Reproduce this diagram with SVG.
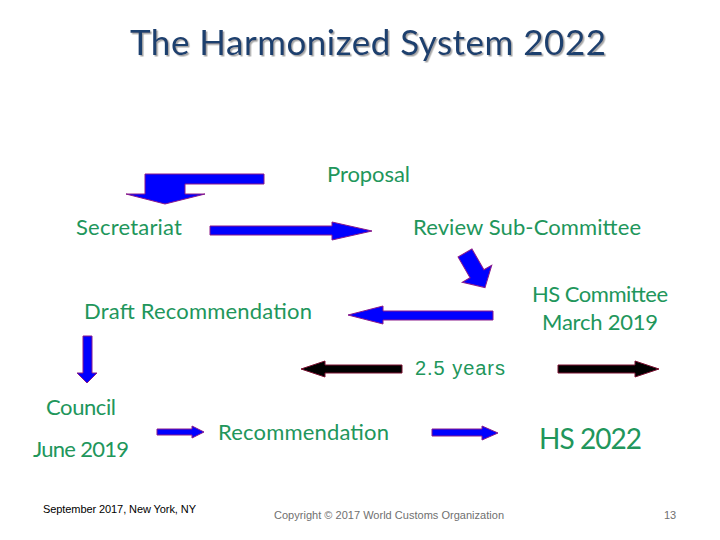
<svg xmlns="http://www.w3.org/2000/svg" width="720" height="540" viewBox="0 0 720 540">
<defs>
<filter id="sh" x="-5%" y="-20%" width="110%" height="150%">
<feDropShadow dx="1.5" dy="1.5" stdDeviation="0.6" flood-color="#808080" flood-opacity="0.7"/>
</filter>
</defs>
<style>
.t{font-family:Lato,"Open Sans","Liberation Sans",sans-serif;fill:#21965b;font-size:22px}
.ar{font-family:"Liberation Sans",Arial,sans-serif;fill:#21965b;font-size:20px}
.title{font-family:Lato,"Open Sans","Liberation Sans",sans-serif;font-size:35px;fill:#1f3f6e}
.b{fill:#0000ff;stroke:#8a1a8a;stroke-width:1}
.k{fill:#000000;stroke:#7a1030;stroke-width:1}
.foot{font-family:"Liberation Sans","Open Sans",sans-serif;font-size:11px}
</style>
<rect width="720" height="540" fill="#ffffff"/>
<g id="title">
<text class="title" x="368" y="55" text-anchor="middle" textLength="476" filter="url(#sh)">The Harmonized System 2022</text>
</g>
<g id="proposal"><text class="t" x="327" y="182" textLength="83">Proposal</text></g>
<g id="secretariat"><text class="t" x="76" y="235" textLength="106">Secretariat</text></g>
<g id="review"><text class="t" x="413" y="235" textLength="228">Review Sub-Committee</text></g>
<g id="hscommittee">
<text class="t" x="600" y="302" text-anchor="middle" textLength="136">HS Committee</text>
<text class="t" x="600" y="330" text-anchor="middle" textLength="116">March 2019</text>
</g>
<g id="draft"><text class="t" x="84" y="319" textLength="228">Draft Recommendation</text></g>
<g id="years"><text class="ar" x="415" y="375" textLength="90">2.5 years</text></g>
<g id="council">
<text class="t" x="46" y="415" textLength="70">Council</text>
<text class="t" x="33" y="457" textLength="96">June 2019</text>
</g>
<g id="recommendation"><text class="t" x="218" y="440" textLength="171">Recommendation</text></g>
<g id="hs2022"><text class="t" x="539" y="449" style="font-size:28px" textLength="103">HS 2022</text></g>
<g id="connectors">
<path class="b" d="M264,174 L145,174 L145,194 L126,194 L165,204 L205,194 L185,194 L185,184 L264,184 Z"/>
<path class="b" d="M210,226 L332,226 L332,222 L372,231 L332,240 L332,235 L210,235 Z"/>
<path class="b" transform="translate(476,272) rotate(-30)" d="M-8,-22 L8,-22 L8,2 L17,2 L0,18 L-17,2 L-8,2 Z"/>
<path class="b" d="M493,311 L383,311 L383,306 L348,315 L383,324 L383,320 L493,320 Z"/>
<path class="b" d="M83,336 L92,336 L92,373 L97,373 L87,383 L77,373 L83,373 Z"/>
<path class="k" d="M402,365 L325,365 L325,361 L301,369 L325,377 L325,373 L402,373 Z"/>
<path class="k" d="M558,365 L635,365 L635,361 L659,369 L635,377 L635,373 L558,373 Z"/>
<path class="b" d="M157,429 L192,429 L192,426 L204,432 L192,438 L192,435 L157,435 Z"/>
<path class="b" d="M432,429 L482,429 L482,426 L498,433 L482,440 L482,436 L432,436 Z"/>
</g>
<g id="footer">
<text class="foot" x="43" y="513" fill="#000000" textLength="153">September 2017, New York, NY</text>
<text class="foot" x="274" y="519" fill="#707070" textLength="230">Copyright © 2017 World Customs Organization</text>
<text class="foot" x="664" y="519" fill="#707070">13</text>
</g>
</svg>
